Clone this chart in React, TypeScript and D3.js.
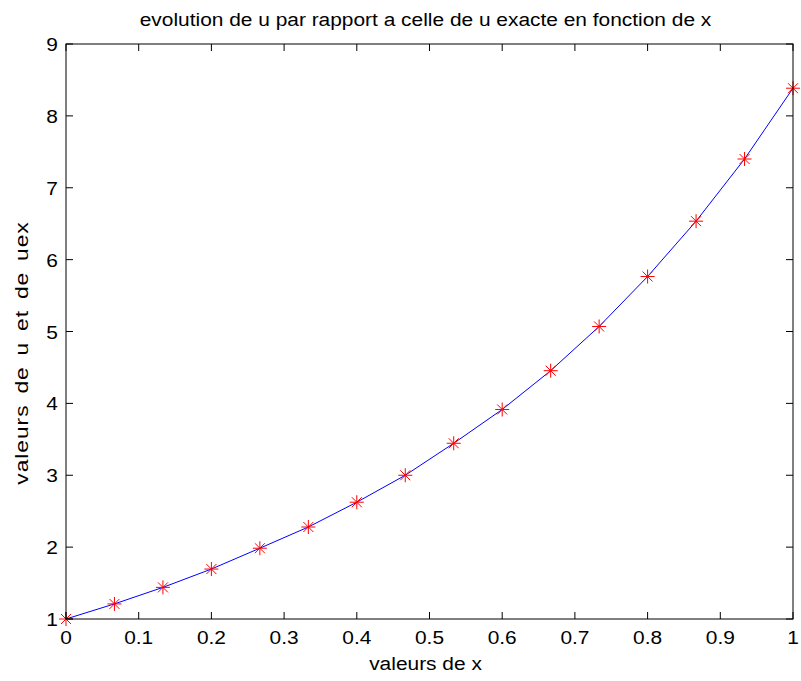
import React from "react";
import * as d3 from "d3";

const xValues = [0, 1 / 15, 2 / 15, 3 / 15, 4 / 15, 5 / 15, 6 / 15, 7 / 15, 8 / 15, 9 / 15, 10 / 15, 11 / 15, 12 / 15, 13 / 15, 14 / 15, 1];
const uValues = [1.0, 1.21, 1.44, 1.695, 1.985, 2.28, 2.625, 3.0, 3.445, 3.915, 4.455, 5.07, 5.765, 6.535, 7.4, 8.385];
const xTicks = [0, 0.1, 0.2, 0.3, 0.4, 0.5, 0.6, 0.7, 0.8, 0.9, 1];
const yTicks = [1, 2, 3, 4, 5, 6, 7, 8, 9];
const titleText = "evolution de u par rapport a celle de u exacte en fonction de x";
const xLabelText = "valeurs de x";
const yLabelText = "valeurs de u et de uex";

const W = 801;
const H = 681;
const left = 66;
const right = 793;
const top = 44;
const bottom = 619;
const font = "'Liberation Sans', Arial, sans-serif";
const fs = 19;
const sx = 1.1;

function T(props: { x: number; y: number; anchor: string; rot?: boolean; s?: number; ls?: number; ws?: number; children: string }) {
  const s = props.s ?? sx;
  const tr = props.rot
    ? `translate(${props.x},${props.y}) rotate(-90) scale(${s},1)`
    : `translate(${props.x},${props.y}) scale(${s},1)`;
  return (
    <text
      transform={tr}
      textAnchor={props.anchor}
      fontFamily={font}
      fontSize={fs}
      fill="#000"
      style={{ letterSpacing: props.ls ? `${props.ls}px` : undefined, wordSpacing: props.ws ? `${props.ws}px` : undefined }}
    >
      {props.children}
    </text>
  );
}

export default function App() {
  const x = d3.scaleLinear().domain([0, 1]).range([left, right]);
  const y = d3.scaleLinear().domain([1, 9]).range([bottom, top]);
  const pts = xValues.map((v, i) => [v, uValues[i]] as [number, number]);
  const line = d3.line<[number, number]>().x((d) => x(d[0])).y((d) => y(d[1]));
  const tl = 7;
  return (
    <svg width={W} height={H} style={{ position: "absolute", left: 0, top: 0, background: "#fff" }}>
      <rect x={0} y={0} width={W} height={H} fill="#fff" />
      <path d={line(pts) || ""} fill="none" stroke="#0000ff" strokeWidth={1} />
      {pts.map((d, i) => {
        const cx = x(d[0]);
        const cy = y(d[1]);
        const a = 7;
        const b = 5;
        return (
          <g key={i} stroke="#ff0000" strokeWidth={1}>
            <line x1={cx - a} y1={cy} x2={cx + a} y2={cy} />
            <line x1={cx} y1={cy - a} x2={cx} y2={cy + a} />
            <line x1={cx - b} y1={cy - b} x2={cx + b} y2={cy + b} />
            <line x1={cx - b} y1={cy + b} x2={cx + b} y2={cy - b} />
          </g>
        );
      })}
      <rect x={left} y={top} width={right - left} height={bottom - top} fill="none" stroke="#000" strokeWidth={1} />
      {xTicks.map((t, i) => (
        <g key={"x" + i}>
          <line x1={x(t)} x2={x(t)} y1={bottom} y2={bottom - tl} stroke="#000" />
          <line x1={x(t)} x2={x(t)} y1={top} y2={top + tl} stroke="#000" />
          <T x={x(t)} y={644} anchor="middle">{String(t)}</T>
        </g>
      ))}
      {yTicks.map((t, i) => (
        <g key={"y" + i}>
          <line x1={left} x2={left + tl} y1={y(t)} y2={y(t)} stroke="#000" />
          <line x1={right} x2={right - tl} y1={y(t)} y2={y(t)} stroke="#000" />
          <T x={left - 8} y={y(t) + 7} anchor="end">{String(t)}</T>
        </g>
      ))}
      <T x={(left + right) / 2 - 4} y={26} anchor="middle">{titleText}</T>
      <T x={(left + right) / 2 - 4} y={670} anchor="middle">{xLabelText}</T>
      <T x={28} y={353} anchor="middle" rot s={1.2} ls={0.8} ws={3}>{yLabelText}</T>
    </svg>
  );
}
